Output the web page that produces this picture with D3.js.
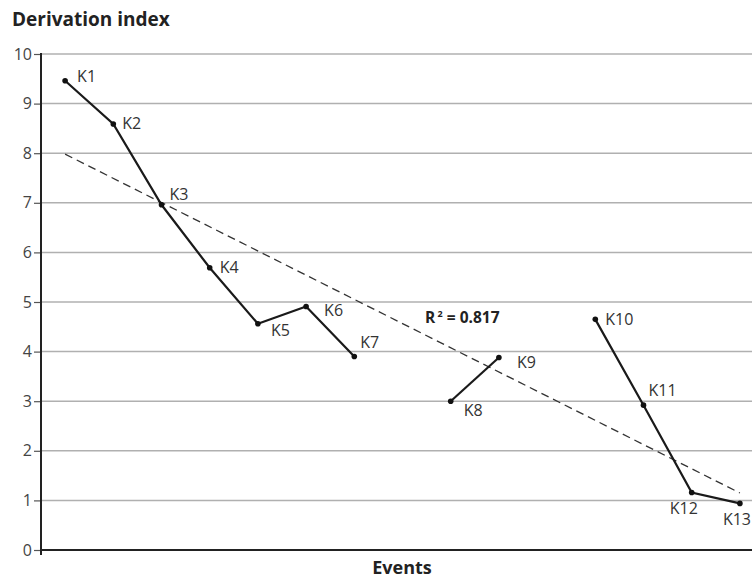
<!DOCTYPE html>
<html>
<head>
<meta charset="utf-8">
<script src="https://cdn.jsdelivr.net/npm/d3@7"></script>
<style>
  body { margin: 0; background: #fff; }
  text { font-family: "Open Sans", "DejaVu Sans", sans-serif; fill: #333; }
</style>
</head>
<body>
<div id="chart"></div>
<script>
// Derivation index per event

var labels = ["K1","K2","K3","K4","K5","K6","K7","K8","K9","K10","K11","K12","K13"];
var eventPos = [1,2,3,4,5,6,7,9,10,12,13,14,15];
var values = [9.46,8.59,6.96,5.69,4.56,4.91,3.90,3.0,3.88,4.65,2.92,1.16,0.94];
var segments = [[0,6],[7,8],[9,12]];   // index ranges that are joined
var trendX = [1,15];
var trendY = [7.98,1.15];
var yTicks = [0,1,2,3,4,5,6,7,8,9,10];
// label offsets from each point
var labelDx = [12,9,8,10,13,18,6,13,18,10,5,-22,-17];
var labelDy = [1,5,-5,5,12,10,-9,15,10,6,-9,22,22];

var width = 752, height = 586;

var svg = d3.select("#chart").append("svg")
    .attr("width", width)
    .attr("height", height);

var x = d3.scaleLinear().domain([0.5, 15.5]).range([41, 764]);
var y = d3.scaleLinear().domain([0, 10]).range([550, 54]);

// grid
svg.append("g").selectAll("line").data(yTicks.filter(function(d){ return d > 0; }))
  .enter().append("line")
    .attr("x1", 41).attr("x2", width)
    .attr("y1", function(d){ return y(d); })
    .attr("y2", function(d){ return y(d); })
    .style("stroke", "#b0b0b0")
    .style("stroke-width", 1.5);

// y axis
var yAxis = d3.axisLeft(y).tickValues(yTicks).tickSize(7).tickPadding(2);
var ga = svg.append("g").attr("transform", "translate(41,0)").call(yAxis);
ga.select(".domain").remove();
ga.selectAll(".tick line").style("stroke", "#555").style("stroke-width", 1.2);
ga.selectAll(".tick text").style("font-size", "16px").style("fill", "#444");

svg.append("line")
    .attr("x1", 41).attr("x2", 41).attr("y1", y(10) - 1).attr("y2", y(0) + 5)
    .style("stroke", "#222").style("stroke-width", 2);
svg.append("line")
    .attr("x1", 41).attr("x2", width).attr("y1", y(0)).attr("y2", y(0))
    .style("stroke", "#222").style("stroke-width", 2);

// trend line
svg.append("line")
    .attr("x1", x(trendX[0])).attr("y1", y(trendY[0]))
    .attr("x2", x(trendX[1])).attr("y2", y(trendY[1]))
    .style("stroke", "#333").style("stroke-width", 1.3)
    .style("stroke-dasharray", "8,5");

var line = d3.line()
    .x(function(i){ return x(eventPos[i]); })
    .y(function(i){ return y(values[i]); });

segments.forEach(function(s){
  svg.append("path")
    .datum(d3.range(s[0], s[1] + 1))
    .attr("d", line)
    .style("fill", "none")
    .style("stroke", "#1a1a1a")
    .style("stroke-width", 2.2);
});

svg.append("g").selectAll("circle").data(values)
  .enter().append("circle")
    .attr("cx", function(d,i){ return x(eventPos[i]); })
    .attr("cy", function(d){ return y(d); })
    .attr("r", 2.8)
    .style("fill", "#111");

svg.append("g").selectAll("text").data(labels)
  .enter().append("text")
    .attr("x", function(d,i){ return x(eventPos[i]) + labelDx[i]; })
    .attr("y", function(d,i){ return y(values[i]) + labelDy[i]; })
    .style("font-size", "16px")
    .text(function(d){ return d; });

// R squared
var r2 = svg.append("text")
    .attr("x", 425).attr("y", 323)
    .style("font-size", "15.5px").style("font-weight", "bold").style("fill", "#222");
r2.append("tspan").text("R");
r2.append("tspan").attr("dy", -6).style("font-size", "9px").text(" 2");
r2.append("tspan").attr("dy", 6).text(" = 0.817");

// titles
svg.append("text")
    .attr("x", 12).attr("y", 26)
    .style("font-size", "19px").style("font-weight", "bold").style("fill", "#222")
    .text("Derivation index");

svg.append("text")
    .attr("x", 402).attr("y", 574)
    .attr("text-anchor", "middle")
    .style("font-size", "18px").style("font-weight", "bold").style("fill", "#222")
    .text("Events");
</script>
</body>
</html>
